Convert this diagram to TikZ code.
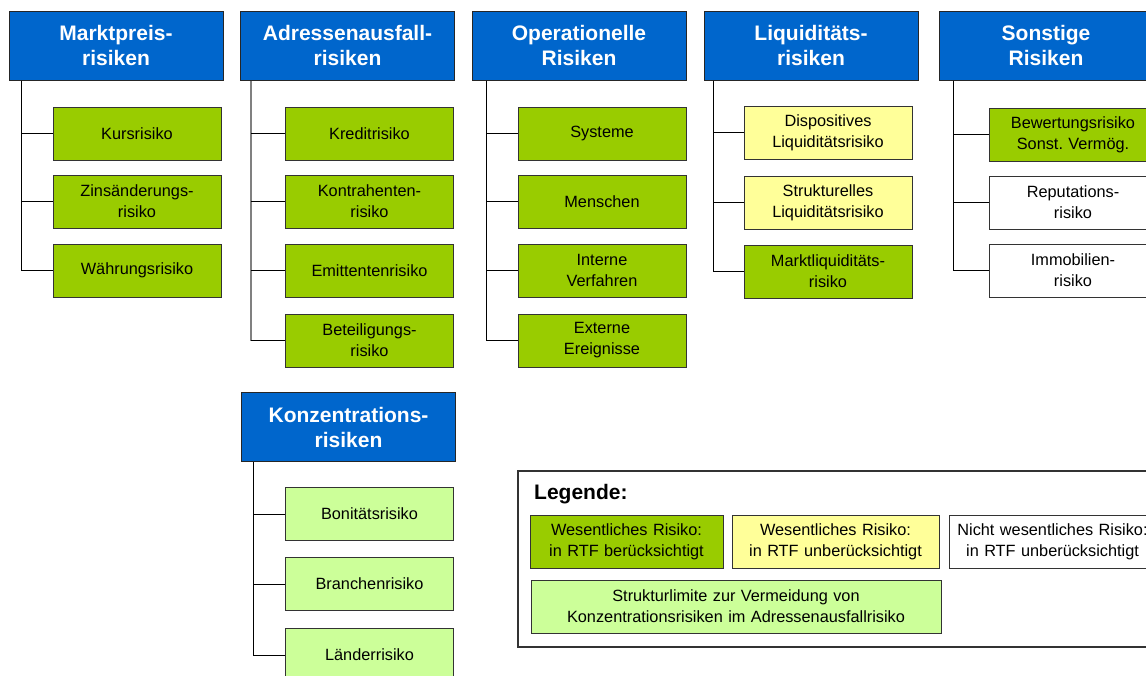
\documentclass[tikz,border=0pt]{standalone}
\usepackage{fontspec}
\setmainfont{Liberation Sans}
\usetikzlibrary{positioning}
\usepackage{xcolor}
\definecolor{HeadBlue}{RGB}{0,102,204}
\definecolor{RiskGreen}{RGB}{153,204,0}
\definecolor{RiskYellow}{RGB}{255,255,153}
\definecolor{LimitGreen}{RGB}{204,255,153}
\frenchspacing
\tikzset{
  header/.style={draw=black!85, fill=HeadBlue, line width=1pt,
    minimum width=214pt, minimum height=69pt, text width=205pt, inner sep=0pt,
    align=center, text=white, font=\fontsize{21}{25}\selectfont\bfseries},
  riskbox/.style={draw=black!80, line width=1pt, minimum width=168pt,
    minimum height=53pt, text width=165pt, inner sep=0pt, align=center,
    font=\fontsize{16.3}{21}\selectfont},
  riskmain/.style={riskbox, fill=RiskGreen},
  riskopen/.style={riskbox, fill=RiskYellow},
  risknone/.style={riskbox, fill=white},
  risklimit/.style={riskbox, fill=LimitGreen},
  branch/.style={draw=black, line width=1pt},
  greybranch/.style={draw=black!50, line width=2pt},
  legframe/.style={draw=black!80, line width=2.5pt}
}

\begin{document}
\begin{tikzpicture}[x=1pt, y=-1pt]
  \useasboundingbox (0,0) rectangle (1146,675);
  \clip (0,0) rectangle (1146,675);

  % Kopfzeile
  \node[header] (mp) at (116,45.5) {Marktpreis-\\risiken};
  \node[header] (aa) at (347.5,45.5) {Adressenausfall-\\risiken};
  \node[header] (op) at (579,45.5) {Operationelle\\Risiken};
  \node[header] (lq) at (811,45.5) {Liquiditäts-\\risiken};
  \node[header] (so) at (1046,45.5) {Sonstige\\Risiken};
  \node[header] (kz) at (348.5,427) {Konzentrations-\\risiken};

  % Marktpreisrisiken
  \node[riskmain, below right=26pt and 44pt of mp.south west] (mp1) {Kursrisiko};
  \node[riskmain, below=14pt of mp1] (mp2) {Zinsänderungs-\\risiko};
  \node[riskmain, below=15pt of mp2] (mp3) {Währungsrisiko};
  \coordinate (mptop) at ([xshift=13pt]mp.south west);
  \foreach \c in {mp1,mp2,mp3}
    \draw[branch] (mptop) |- (\c.west);

  % Adressenausfallrisiken
  \node[riskmain, below right=26pt and 45pt of aa.south west] (aa1) {Kreditrisiko};
  \node[riskmain, below=14pt of aa1] (aa2) {Kontrahenten-\\risiko};
  \node[riskmain, below=15pt of aa2] (aa3) {Emittentenrisiko};
  \node[riskmain, below=16pt of aa3] (aa4) {Beteiligungs-\\risiko};
  \coordinate (aatop) at ([xshift=11pt]aa.south west);
  \draw[greybranch] (aatop) -- (aatop |- aa4.west);
  \foreach \c in {aa1,aa2,aa3,aa4}
    \draw[branch] (aatop |- \c.west) -- (\c.west);

  % Operationelle Risiken
  \node[riskmain, below right=26pt and 46pt of op.south west] (op1) {Systeme};
  \node[riskmain, below=14pt of op1] (op2) {Menschen};
  \node[riskmain, below=15pt of op2] (op3) {Interne\\Verfahren};
  \node[riskmain, below=16pt of op3] (op4) {Externe\\Ereignisse};
  \coordinate (optop) at ([xshift=15pt]op.south west);
  \foreach \c in {op1,op2,op3,op4}
    \draw[branch] (optop) |- (\c.west);

  % Liquiditaetsrisiken
  \node[riskopen, below right=25pt and 40pt of lq.south west] (lq1) {Dispositives\\Liquiditätsrisiko};
  \node[riskopen, below=16pt of lq1] (lq2) {Strukturelles\\Liquiditätsrisiko};
  \node[riskmain, below=15pt of lq2] (lq3) {Marktliquiditäts-\\risiko};
  \coordinate (lqtop) at ([xshift=10pt]lq.south west);
  \foreach \c in {lq1,lq2,lq3}
    \draw[branch] (lqtop) |- (\c.west);

  % Sonstige Risiken
  \node[riskmain, below right=27pt and 50pt of so.south west] (so1) {Bewertungsrisiko\\Sonst. Vermög.};
  \node[risknone, below=14pt of so1] (so2) {Reputations-\\risiko};
  \node[risknone, below=14pt of so2] (so3) {Immobilien-\\risiko};
  \coordinate (sotop) at ([xshift=15pt]so.south west);
  \foreach \c in {so1,so2,so3}
    \draw[branch] (sotop) |- (\c.west);

  % Konzentrationsrisiken
  \node[risklimit, below right=25pt and 44pt of kz.south west] (kz1) {Bonitätsrisiko};
  \node[risklimit, below=16pt of kz1] (kz2) {Branchenrisiko};
  \node[risklimit, below=17pt of kz2] (kz3) {Länderrisiko};
  \coordinate (kztop) at ([xshift=12pt]kz.south west);
  \foreach \c in {kz1,kz2,kz3}
    \draw[branch] (kztop) |- (\c.west);

  % Legende
  \draw[legframe] (518,471) rectangle (1180,647);
  \node[anchor=base west, inner sep=0pt, font=\fontsize{21}{25}\selectfont\bfseries]
    (legtitle) at (534,499) {Legende:};
  \node[riskmain, minimum width=193pt, text width=190pt] (lg1) at (626.5,541.5)
    {Wesentliches Risiko:\\in RTF berücksichtigt};
  \node[riskopen, minimum width=207pt, text width=200pt, right=8pt of lg1] (lg2)
    {Wesentliches Risiko:\\in RTF unberücksichtigt};
  \node[risknone, minimum width=207pt, text width=200pt, right=9pt of lg2] (lg3)
    {Nicht wesentliches Risiko:\\in RTF unberücksichtigt};
  \node[risklimit, minimum width=410pt, text width=400pt,
    below right=11pt and 1pt of lg1.south west] (lg4)
    {Strukturlimite zur Vermeidung von\\Konzentrationsrisiken im Adressenausfallrisiko};
\end{tikzpicture}
\end{document}
